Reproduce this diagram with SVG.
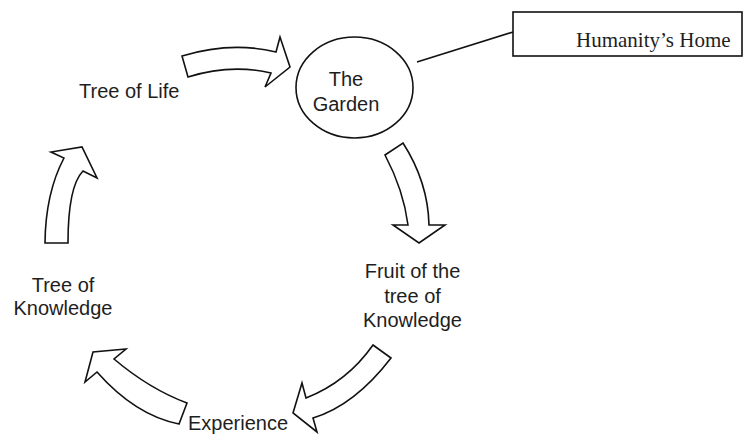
<svg xmlns="http://www.w3.org/2000/svg" width="743" height="435" viewBox="0 0 743 435">
<style>
.arrow{fill:#fff;stroke:#111;stroke-width:1.6;stroke-linejoin:miter}
.lbl{font-family:"Liberation Sans",Arial,sans-serif;font-size:20px;fill:#1e1e1e}
.serif{font-family:"Liberation Serif","Times New Roman",serif;font-size:21px;fill:#1e1e1e}
.shape{fill:#fff;stroke:#111;stroke-width:1.6}
</style>
<rect width="743" height="435" fill="#fff"/>
<g id="connectors">
<path class="arrow" d="M182,56 Q231,41 276,52 L280,37 L290,67 L265,87 L271,73 Q230.5,63.6 188,77 Z"/>
<path class="arrow" d="M385,155 L403,143 Q428,182 429,225 L445,225 L419,243 L393,225 L408,225 Q403.5,190 385,155 Z"/>
<path class="arrow" d="M373,345 L391,358 Q354.6,405.4 313,418 L317,432 L293,413 L302,383 L306,398 Q347,382 373,345 Z"/>
<path class="arrow" d="M85,382 L93,352 L126,349 L114,359 Q149.5,389 187,403 L179,424 Q135.4,415.4 97,372 Z"/>
<path class="arrow" d="M45,243 Q45.5,193 64,158 L51,152 L82,147 L97,178 L83,171 Q68,186.4 68,243 Z"/>
<line x1="417" y1="62" x2="513" y2="32" stroke="#111" stroke-width="1.6"/>
</g>
<g id="garden">
<ellipse class="shape" cx="354.5" cy="87.5" rx="58.5" ry="50.5"/>
<text class="lbl" x="346" y="86" text-anchor="middle">The</text>
<text class="lbl" x="346" y="111" text-anchor="middle">Garden</text>
</g>
<g id="home">
<rect class="shape" x="513" y="12" width="229" height="44"/>
<text class="serif" x="576" y="47">Humanity’s Home</text>
</g>
<g id="fruit">
<text class="lbl" x="412.5" y="278" text-anchor="middle">Fruit of the</text>
<text class="lbl" x="412.5" y="303" text-anchor="middle">tree of</text>
<text class="lbl" x="412.5" y="327" text-anchor="middle">Knowledge</text>
</g>
<g id="experience">
<text class="lbl" x="188" y="430">Experience</text>
</g>
<g id="knowledge">
<text class="lbl" x="63" y="292" text-anchor="middle">Tree of</text>
<text class="lbl" x="63" y="315" text-anchor="middle">Knowledge</text>
</g>
<g id="life">
<text class="lbl" x="79" y="98">Tree of Life</text>
</g>
</svg>
